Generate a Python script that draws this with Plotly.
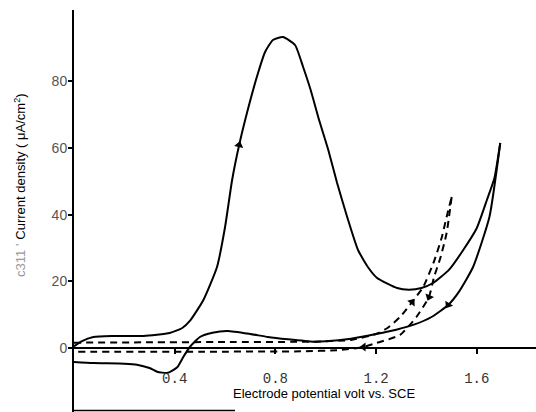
import plotly.graph_objects as go

# Solid CV: anodic (forward) sweep
anodic_v = [0.0, 0.03, 0.077, 0.15, 0.276, 0.38, 0.43, 0.461, 0.514, 0.568, 0.60, 0.628, 0.656,
            0.69, 0.731, 0.759, 0.79, 0.83, 0.878, 0.91, 0.94, 0.975, 1.01, 1.045, 1.085, 1.128,
            1.17, 1.204, 1.283, 1.33, 1.38, 1.426, 1.49, 1.546, 1.60, 1.64, 1.67, 1.693]
anodic_i = [0.5, 2.0, 3.3, 3.6, 3.6, 4.5, 6.0, 8.2, 14.4, 24.3, 36.3, 50.4, 60.9,
            71.4, 82.5, 88.8, 92.4, 93.3, 90.9, 84.3, 77.4, 68.0, 59.4, 49.5, 39.3, 29.4,
            24.0, 21.0, 18.0, 17.5, 18.0, 19.5, 23.5, 29.4, 36.0, 44.4, 51.0, 61.5]
# Solid CV: cathodic (reverse) sweep
cathodic_v = [1.693, 1.65, 1.585, 1.53, 1.486, 1.42, 1.35, 1.28, 1.2, 1.1, 1.0, 0.95, 0.85,
              0.77, 0.7, 0.61, 0.55, 0.5, 0.46, 0.434, 0.41, 0.37, 0.33, 0.3, 0.25, 0.2, 0.077, 0.0]
cathodic_i = [61.5, 39.3, 24.3, 17.0, 12.9, 9.3, 7.0, 5.5, 4.2, 2.8, 2.0, 1.9, 2.6,
              3.3, 4.2, 5.1, 4.6, 3.3, 0.3, -2.7, -5.8, -7.5, -7.1, -6.0, -5.0, -4.7, -4.5, -4.2]
# Dashed CV: forward and reverse
dash_fwd_v = [0.0, 0.3, 0.6, 0.95, 1.1, 1.2, 1.245, 1.295, 1.343, 1.387, 1.43, 1.46, 1.48, 1.50]
dash_fwd_i = [1.6, 1.7, 1.8, 1.9, 2.4, 4.2, 6.0, 9.3, 13.8, 18.3, 26.0, 33.0, 39.3, 45.3]
dash_rev_v = [1.50, 1.48, 1.455, 1.43, 1.41, 1.36, 1.295, 1.215, 1.2, 1.15, 1.057, 0.9, 0.5, 0.0]
dash_rev_i = [45.3, 34.5, 27.0, 21.3, 15.3, 9.3, 3.9, 1.8, 1.5, 0.3, -0.6, -1.0, -1.1, -1.1]

# Direction arrows
arrow_v = [0.656, 1.486, 1.343, 1.41, 1.15]
arrow_i = [60.9, 12.9, 13.8, 15.3, 0.3]
arrow_angle = [13, 213, 37, 202, 270]

x_ticks = [0.4, 0.8, 1.2, 1.6]
y_ticks = [0, 20, 40, 60, 80]

fig = go.Figure()
line_solid = dict(color="black", width=2, shape="spline", smoothing=0.5)
line_dash = dict(color="black", width=2, dash="7px,5px", shape="spline", smoothing=0.5)
fig.add_trace(go.Scatter(x=anodic_v, y=anodic_i, mode="lines", line=line_solid))
fig.add_trace(go.Scatter(x=cathodic_v, y=cathodic_i, mode="lines", line=line_solid))
fig.add_trace(go.Scatter(x=dash_fwd_v, y=dash_fwd_i, mode="lines", line=line_dash))
fig.add_trace(go.Scatter(x=dash_rev_v, y=dash_rev_i, mode="lines", line=line_dash))
fig.add_trace(go.Scatter(x=arrow_v, y=arrow_i, mode="markers",
                         marker=dict(symbol="triangle-up", size=8, color="black", angle=arrow_angle)))

yr = [-19.2, 101.4]
fig.update_layout(
    width=536, height=412,
    margin=dict(l=74, r=0, t=10, b=0),
    paper_bgcolor="white", plot_bgcolor="white",
    showlegend=False,
    xaxis=dict(range=[0, 1.835], showgrid=False, zeroline=False, showline=True,
               linecolor="black", linewidth=1.5, anchor="free",
               position=(0 - yr[0]) / (yr[1] - yr[0]),
               tickvals=x_ticks, ticktext=[f"{v:.1f}" for v in x_ticks],
               ticks="outside", ticklen=5, tickwidth=1.5, tickcolor="black",
               ticklabelstandoff=12,
               tickfont=dict(family="Liberation Mono", size=14, color="#333")),
    yaxis=dict(range=yr, showgrid=False, zeroline=False, showline=True,
               linecolor="black", linewidth=2, tickvals=y_ticks,
               ticktext=[str(v) for v in y_ticks],
               ticks="outside", ticklen=4, tickwidth=1.5, tickcolor="black",
               ticklabelstandoff=-2,
               tickfont=dict(family="Liberation Sans", size=14, color="#555")),
    shapes=[dict(type="line", xref="paper", yref="paper", x0=0, x1=(235 - 74) / 462,
                 y0=(412 - 410.5) / 402, y1=(412 - 410.5) / 402,
                 line=dict(color="black", width=1.5))],
    annotations=[
        dict(text="Electrode potential volt vs. SCE", xref="paper", yref="paper",
             x=(324 - 74) / 462, y=(412 - 393) / 402, xanchor="center", yanchor="middle",
             showarrow=False,
             font=dict(family="Liberation Sans", size=13, color="black")),
        dict(text="<span style='color:#999'>c311 ʼ </span>Current density ( μA/cm<sup>2</sup>)",
             xref="paper", yref="paper", textangle=-90,
             x=(20 - 74) / 462, y=(412 - 185) / 402, xanchor="center", yanchor="middle",
             showarrow=False,
             font=dict(family="Liberation Sans", size=13, color="black")),
    ],
)
fig.write_html("out.html")
